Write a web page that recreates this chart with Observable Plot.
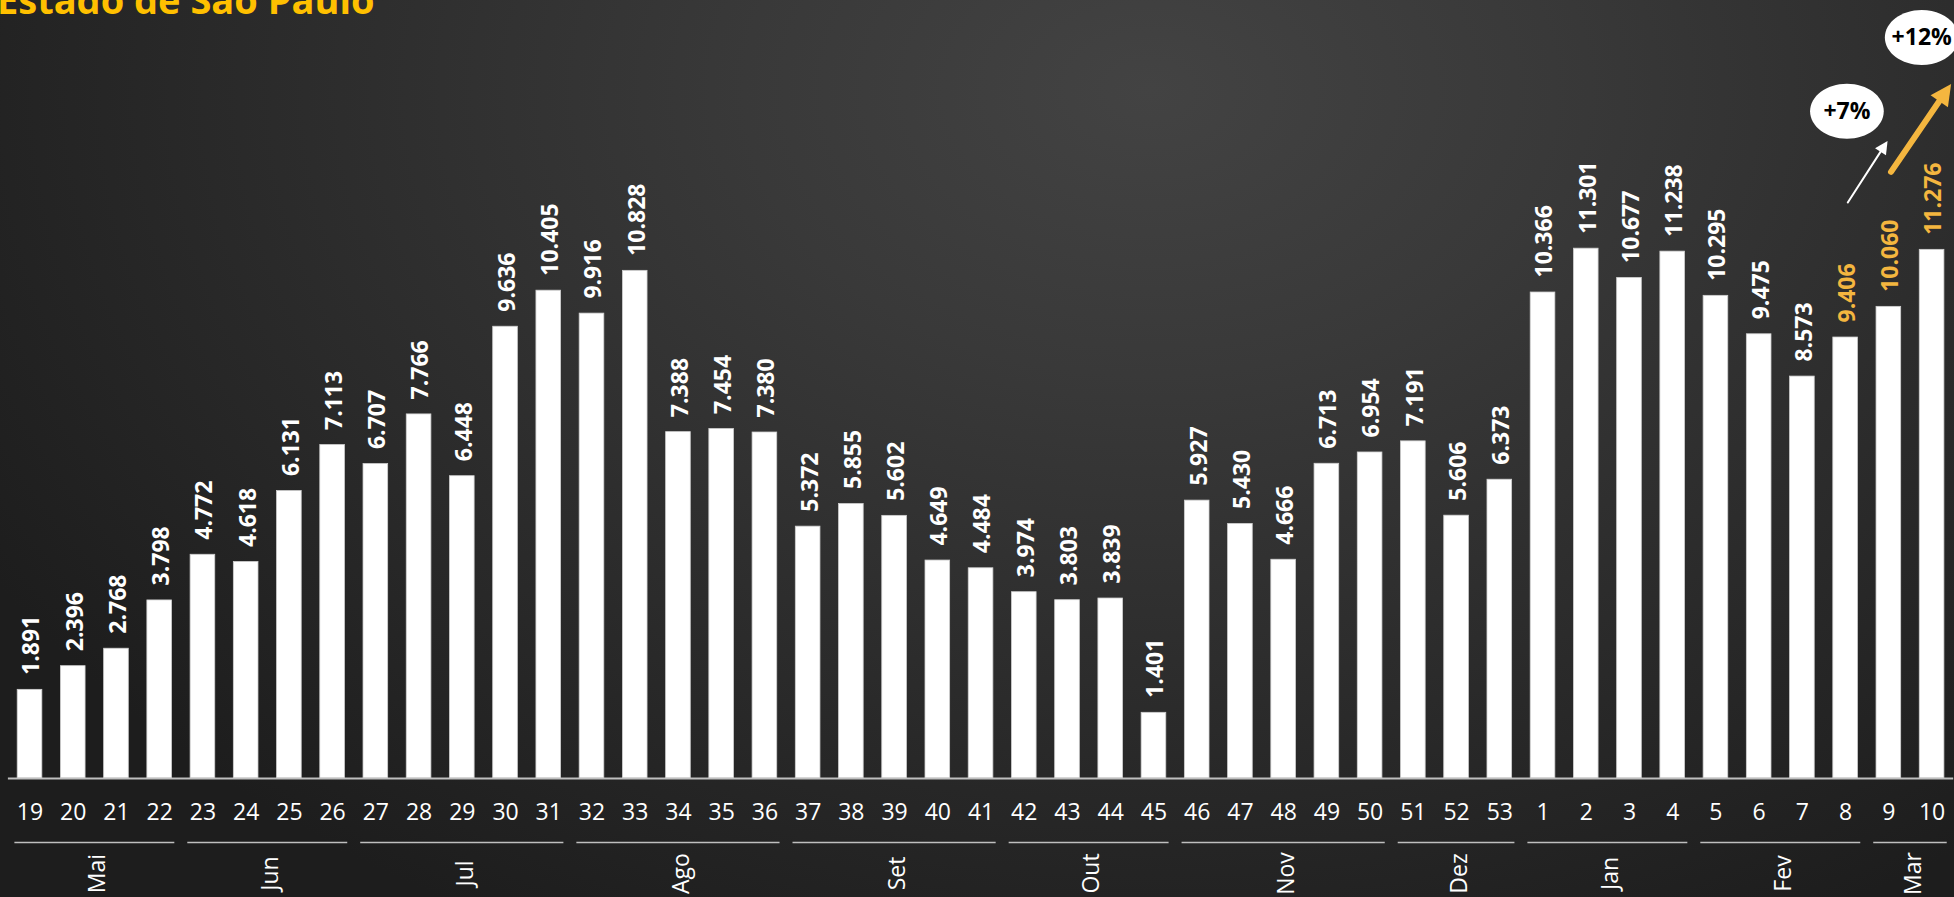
<!DOCTYPE html>
<html>
<head>
<meta charset="utf-8">
<script src="https://cdn.jsdelivr.net/npm/d3@7"></script>
<script src="https://cdn.jsdelivr.net/npm/@observablehq/plot@0.6"></script>
<style>
  html, body { margin: 0; padding: 0; overflow: hidden; }
  body {
    width: 1954px; height: 897px; position: relative;
    background: radial-gradient(ellipse 1350px 950px at 1150px 90px, #434343 0%, #393939 30%, #2b2b2b 65%, #1d1d1d 100%);
    font-family: "Open Sans", sans-serif;
  }
  #title {
    position: absolute; left: -3px; top: -20px; margin: 0;
    font: bold 38px/38px "Open Sans", sans-serif; color: #FFC000; white-space: nowrap;
  }
  #chart { position: absolute; left: 0; top: 0; }
</style>
</head>
<body>
<div id="title">Estado de São Paulo</div>
<div id="chart"></div>
<script>
// ---- data ----
const weeks = ["19","20","21","22","23","24","25","26","27","28","29","30","31","32","33","34","35","36",
  "37","38","39","40","41","42","43","44","45","46","47","48","49","50","51","52","53",
  "1","2","3","4","5","6","7","8","9","10"];
const values = [1891,2396,2768,3798,4772,4618,6131,7113,6707,7766,6448,9636,10405,9916,10828,7388,7454,7380,
  5372,5855,5602,4649,4484,3974,3803,3839,1401,5927,5430,4666,6713,6954,7191,5606,6373,
  10366,11301,10677,11238,10295,9475,8573,9406,10060,11276];
const months = ["Mai","Jun","Jul","Ago","Set","Out","Nov","Dez","Jan","Fev","Mar"];
const weeksPerMonth = [4,4,5,5,5,4,5,3,4,4,2];
const highlightWeeks = ["8","9","10"];
const changes = [
  {from: "8", to: "9", label: "+7%", emphasis: false},
  {from: "9", to: "10", label: "+12%", emphasis: true}
];

// ---- scales (shared) ----
const xOpts = {type: "linear", domain: [-0.5, weeks.length - 0.5], range: [7.9, 1953.2]};
const yOpts = {domain: [0, 12000], range: [778, 215.4]};
const xs = Plot.scale({x: xOpts});
const ys = Plot.scale({y: yOpts});

// ---- derived tables ----
const rows = weeks.map((w, i) => ({i, week: w, value: values[i], hi: highlightWeeks.includes(w)}));
let acc = 0;
const monthRows = months.map((m, k) => {
  const start = acc; acc += weeksPerMonth[k];
  return {name: m, start, end: acc - 1};
});
const idx = w => weeks.indexOf(w);
const val = w => values[idx(w)];
const ann = changes.map(c => {
  const a = {
    ...c,
    x1: idx(c.from) + 0.05, y1: val(c.from) + 2880,
    x2: idx(c.to) + (c.emphasis ? 0.44 : -0.03), y2: val(c.to) + 3540,
    bx: idx(c.to) - (c.emphasis ? 0.24 : 0.97), by: val(c.to) + (c.emphasis ? 4530 : 4173)
  };
  const dx = xs.apply(a.x2) - xs.apply(a.x1), dy = ys.apply(a.y2) - ys.apply(a.y1);
  a.angle = Math.atan2(dx, -dy) * 180 / Math.PI;
  return a;
});

const ptBR = d3.formatLocale({decimal: ",", thousands: ".", grouping: [3], currency: ["R$", ""]});
const fmt = ptBR.format(",d");
const orange = "#F4B63F";

const ellipse = {
  draw(ctx, size) {
    const ry = Math.sqrt(size / Math.PI), rx = ry * 1.34, k = 0.5523;
    ctx.moveTo(rx, 0);
    ctx.bezierCurveTo(rx, ry * k, rx * k, ry, 0, ry);
    ctx.bezierCurveTo(-rx * k, ry, -rx, ry * k, -rx, 0);
    ctx.bezierCurveTo(-rx, -ry * k, -rx * k, -ry, 0, -ry);
    ctx.bezierCurveTo(rx * k, -ry, rx, -ry * k, rx, 0);
    ctx.closePath();
  }
};
// arrowhead with its tip at the origin, pointing up
const head = {
  draw(ctx, size) {
    const L = Math.sqrt(size / Math.PI), w = L * 0.5;
    ctx.moveTo(0, 0);
    ctx.lineTo(w, L);
    ctx.lineTo(-w, L);
    ctx.closePath();
  }
};

const thin = ann.filter(d => !d.emphasis), bold = ann.filter(d => d.emphasis);

const chart = Plot.plot({
  width: 1954, height: 897, margin: 0,
  style: {background: "transparent", color: "white", fontFamily: "'Open Sans', sans-serif", overflow: "hidden"},
  x: {...xOpts, axis: null},
  y: {...yOpts, axis: null},
  marks: [
    Plot.rect(rows, {x1: d => d.i - 0.285, x2: d => d.i + 0.285, y1: 0, y2: "value", fill: "white", stroke: "#cfcfcf", strokeWidth: 0.8}),
    Plot.ruleY([0], {x1: -0.5, x2: weeks.length - 0.5, stroke: "#bfbfbf", strokeWidth: 2}),
    Plot.text(rows, {x: "i", y: "value", text: d => fmt(d.value), rotate: -90, textAnchor: "start", dy: -15, dx: 2,
      fill: d => d.hi ? orange : "white", fontSize: 23, fontWeight: "bold"}),
    Plot.text(rows, {x: "i", y: 0, text: "week", dy: 34, fill: "white", fontSize: 23, letterSpacing: 0.5}),
    Plot.ruleY(monthRows, {y: 0, x1: d => d.start - 0.35, x2: d => d.end + 0.35, dy: 64, stroke: "#bfbfbf", strokeWidth: 1.5}),
    Plot.text(monthRows, {x: d => (d.start + d.end) / 2, y: 0, text: "name", rotate: -90, textAnchor: "middle", dy: 95, dx: 3,
      fill: "white", fontSize: 23}),
    // shafts
    Plot.arrow(thin, {x1: "x1", y1: "y1", x2: "x2", y2: "y2", stroke: "white", strokeWidth: 2, headLength: 0, insetEnd: 8}),
    Plot.arrow(bold, {x1: "x1", y1: "y1", x2: "x2", y2: "y2", stroke: orange, strokeWidth: 6, headLength: 0, insetEnd: 12}),
    // filled heads
    Plot.dot(thin, {x: "x2", y: "y2", r: 13, symbol: head, rotate: "angle", fill: "white", stroke: "none"}),
    Plot.dot(bold, {x: "x2", y: "y2", r: 21, symbol: head, rotate: "angle", fill: orange, stroke: "none"}),
    // badges
    Plot.dot(ann, {x: "bx", y: "by", r: 27.5, symbol: ellipse, fill: "white", stroke: "none"}),
    Plot.text(ann, {x: "bx", y: "by", text: "label", fill: "black", fontSize: 23, fontWeight: "bold"})
  ]
});
document.getElementById("chart").appendChild(chart);
</script>
</body>
</html>
